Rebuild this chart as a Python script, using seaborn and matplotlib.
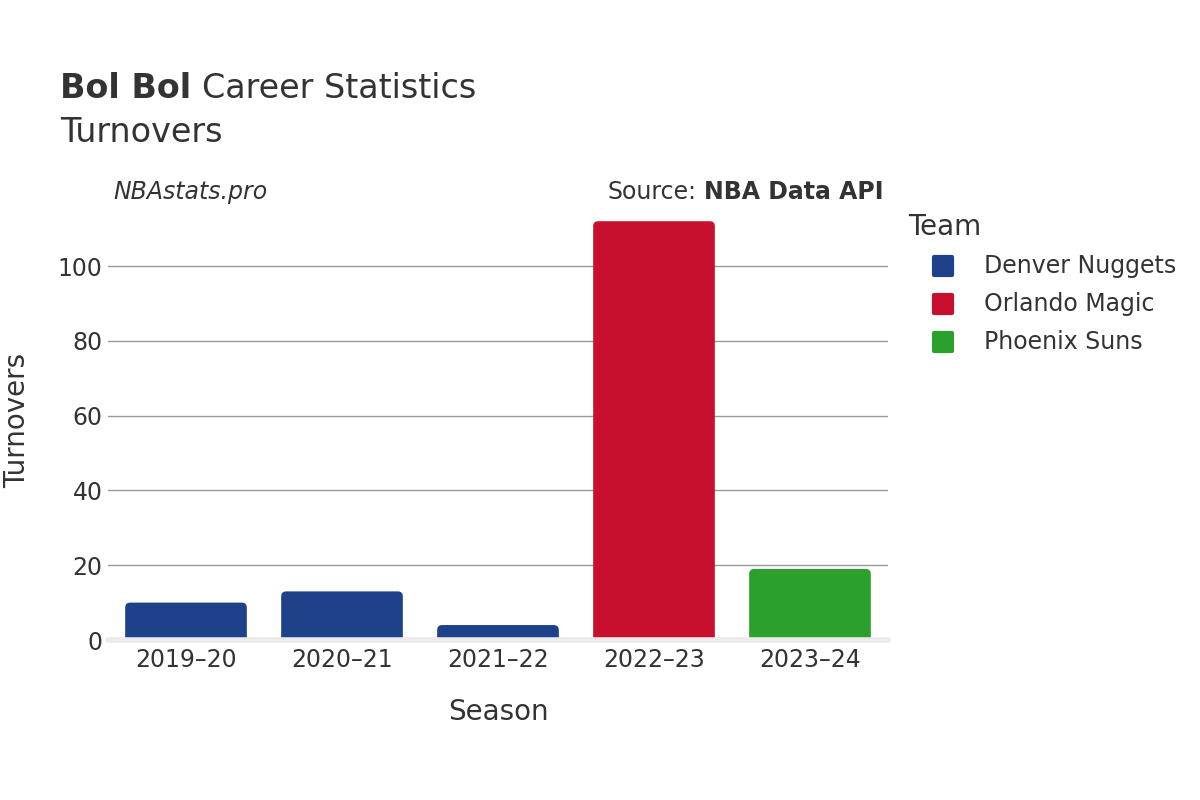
import matplotlib
matplotlib.use("Agg")
import matplotlib.pyplot as plt
from matplotlib.patches import FancyBboxPatch
from matplotlib.lines import Line2D
from matplotlib.markers import MarkerStyle
import seaborn as sns
import pandas as pd

seasons = ["2019–20", "2020–21", "2021–22", "2022–23", "2023–24"]
teams = ["Denver Nuggets", "Denver Nuggets", "Denver Nuggets", "Orlando Magic", "Phoenix Suns"]
turnovers = [10, 13, 4, 112, 19]

team_order = ["Denver Nuggets", "Orlando Magic", "Phoenix Suns"]
team_colors = {"Denver Nuggets": "#1d428a", "Orlando Magic": "#c8102e", "Phoenix Suns": "#2ca02c"}

df = pd.DataFrame({"Season": seasons, "Team": teams, "Turnovers": turnovers})

sns.set_style("white")
plt.rcParams["font.family"] = ["DejaVu Sans"]
text_color = "#333333"

W, H = 1200, 800
fig = plt.figure(figsize=(12, 8), dpi=100)
ax = fig.add_axes([108 / W, 160 / H, 780 / W, 430 / H])

sns.barplot(df, x="Season", y="Turnovers", hue="Team", hue_order=team_order,
            palette=team_colors, dodge=False, width=0.78, saturation=1,
            legend=False, ax=ax)

ax.set_ylim(0, 115)
ax.set_xlim(-0.5, 4.5)

# swap plain rectangles for rounded ones
xpp = 5 / 780      # x units per pixel
ypp = 115 / 430    # y units per pixel
r = 5 * xpp
for p in list(ax.patches):
    x0, w, h = p.get_x(), p.get_width(), p.get_height()
    fc = p.get_facecolor()
    p.remove()
    if h <= 0 or w <= 0:
        continue
    extra = 6 * ypp
    ax.add_patch(FancyBboxPatch((x0, -extra), w, h + extra,
                                boxstyle=f"round,pad=0,rounding_size={r}",
                                mutation_aspect=ypp / xpp,
                                facecolor=fc, edgecolor="none", zorder=2))

for v in [20, 40, 60, 80, 100]:
    ax.axhline(v, color="#999999", lw=1, zorder=1)
ax.axhline(0, color="#ebebeb", lw=4, zorder=3, clip_on=False)

for s in ax.spines.values():
    s.set_visible(False)
ax.set_yticks([0, 20, 40, 60, 80, 100])
ax.tick_params(axis="both", length=0, labelsize=17, labelcolor=text_color)
ax.tick_params(axis="x", pad=6)
ax.tick_params(axis="y", pad=4)
ax.set_xlabel("Season", fontsize=20, color=text_color, va="center")
ax.set_ylabel("Turnovers", fontsize=20, color=text_color, va="center")
ax.xaxis.set_label_coords(0.5, -(712 - 640) / 430)
ax.yaxis.set_label_coords((17 - 108) / 780, (640 - 420) / 430)


def fy(py):
    return 1 - py / H


t1 = fig.text(60 / W, fy(88), "Bol Bol", fontsize=24, fontweight="bold",
              color=text_color, va="center")
fig.canvas.draw()
bb = t1.get_window_extent()
fig.text((bb.x1 + 11) / W, fy(88), "Career Statistics", fontsize=24,
         color=text_color, va="center")
fig.text(60 / W, fy(132), "Turnovers", fontsize=24, color=text_color, va="center")

fig.text(113 / W, fy(192), "NBAstats.pro", fontsize=17, style="italic",
         color=text_color, va="center")
t2 = fig.text(884 / W, fy(192), "NBA Data API", fontsize=17, fontweight="bold",
              color=text_color, va="center", ha="right")
fig.canvas.draw()
bb2 = t2.get_window_extent()
fig.text((bb2.x0 - 8) / W, fy(192), "Source:", fontsize=17, color=text_color,
         va="center", ha="right")

# legend
fig.text(908 / W, fy(227), "Team", fontsize=20, color=text_color, va="center")
sq = MarkerStyle("s", joinstyle="round")
for i, t in enumerate(team_order):
    y = fy(266 + 38 * i)
    fig.add_artist(Line2D([943 / W], [y], marker=sq, linestyle="none", markersize=13,
                          markerfacecolor=team_colors[t], markeredgecolor=team_colors[t],
                          markeredgewidth=3, transform=fig.transFigure))
    fig.text(984 / W, y, t, fontsize=17, color=text_color, va="center")

fig.savefig("out.png", dpi=100, facecolor="white")
